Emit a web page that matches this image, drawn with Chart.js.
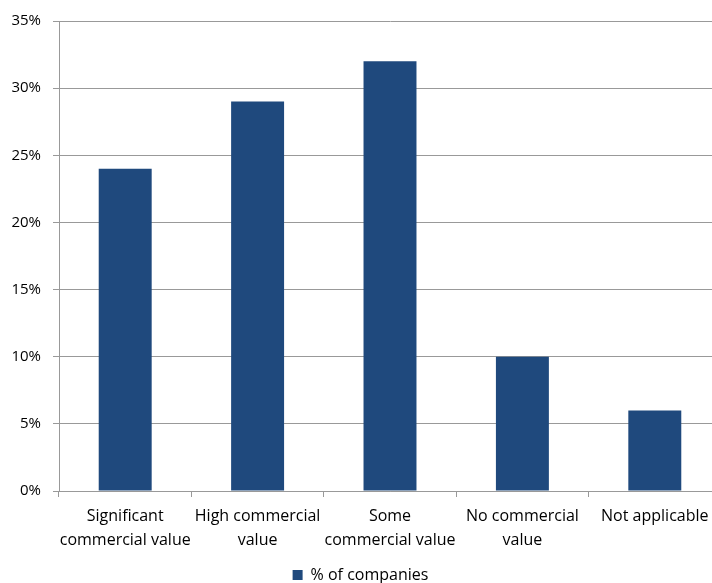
<!DOCTYPE html>
<html>
<head>
<meta charset="utf-8">
<script src="https://cdn.jsdelivr.net/npm/chart.js@4"></script>
<style>
html,body{margin:0;padding:0;overflow:hidden;background:#fff;width:712px;height:583px;}
#wrap{position:absolute;left:0;top:0;width:721px;height:583px;}
</style>
</head>
<body>
<div id="wrap"><canvas id="c" width="721" height="583"></canvas></div>
<script>
const categories = [
  ["Significant", "commercial value"],
  ["High commercial", "value"],
  ["Some", "commercial value"],
  ["No commercial", "value"],
  ["Not applicable"]
];
const seriesName = "% of companies";
const values = [24, 29, 32, 10, 6];
const yTicks = [0, 5, 10, 15, 20, 25, 30, 35];

const FONT = "'Open Sans', 'Liberation Sans', sans-serif";
new Chart(document.getElementById('c'), {
  type: 'bar',
  data: {
    labels: categories,
    datasets: [{
      label: seriesName,
      data: values,
      backgroundColor: '#1F497D',
      borderWidth: 0,
      barPercentage: 0.4,
      categoryPercentage: 1.0
    }]
  },
  options: {
    responsive: false,
    animation: false,
    devicePixelRatio: 1,
    layout: { padding: { top: 17, right: 0, left: 0, bottom: -10 } },
    plugins: {
      tooltip: { enabled: false },
      legend: {
        position: 'bottom',
        align: 'center',
        labels: {
          boxWidth: 10, boxHeight: 10, padding: 4,
          color: '#000',
          font: { family: FONT, size: 16 }
        }
      }
    },
    scales: {
      x: {
        grid: { offset: true, drawOnChartArea: false, color: '#999', tickLength: 6, lineWidth: 1 },
        border: { color: '#999', width: 1 },
        ticks: { color: '#000', font: { family: FONT, size: 16, lineHeight: 1.5 }, maxRotation: 0, autoSkip: false, padding: 7 },
        afterFit: s => { s.height = 72; }
      },
      y: {
        min: 0, max: 35,
        afterBuildTicks: s => { s.ticks = yTicks.map(v => ({ value: v })); },
        grid: { color: '#999', tickLength: 6, lineWidth: 1 },
        border: { color: '#999', width: 1 },
        ticks: { color: '#000', font: { family: FONT, size: 15 }, padding: 12, callback: v => v + '%' },
        afterFit: s => { s.width = 59; }
      }
    }
  }
});
</script>
</body>
</html>
